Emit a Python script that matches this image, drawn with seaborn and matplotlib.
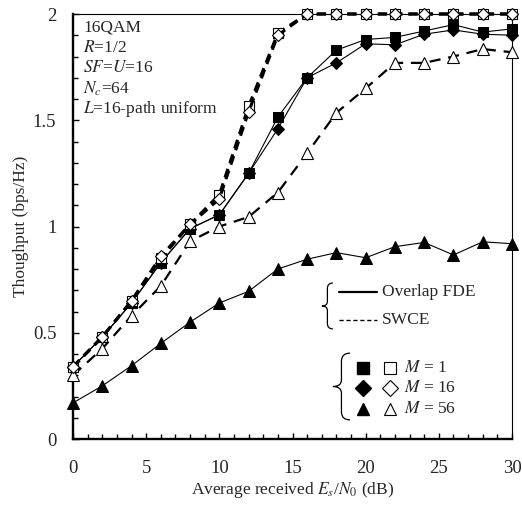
import numpy as np
import pandas as pd
import seaborn as sns
import matplotlib
matplotlib.use("Agg")
import matplotlib.pyplot as plt
from matplotlib.path import Path
from matplotlib.patches import PathPatch
from matplotlib.lines import Line2D
from matplotlib.ticker import MultipleLocator

# Average received Es/N0 (dB)
snr_db = [0, 2, 4, 6, 8, 10, 12, 14, 16, 18, 20, 22, 24, 26, 28, 30]

# Throughput (bps/Hz), overlap FDE
fde_m1 = [0.34, 0.48, 0.64, 0.83, 0.99, 1.055, 1.25, 1.515, 1.70, 1.83, 1.88, 1.89, 1.92, 1.95, 1.915, 1.93]
fde_m16 = [0.34, 0.48, 0.64, 0.83, 0.99, 1.055, 1.25, 1.46, 1.70, 1.77, 1.86, 1.855, 1.905, 1.925, 1.905, 1.90]
fde_m56 = [0.17, 0.25, 0.345, 0.45, 0.55, 0.64, 0.695, 0.80, 0.846, 0.877, 0.853, 0.905, 0.925, 0.866, 0.928, 0.919]

# Throughput (bps/Hz), SWCE
swce_m1 = [0.34, 0.48, 0.65, 0.85, 1.01, 1.15, 1.565, 1.91, 2.0, 2.0, 2.0, 2.0, 2.0, 2.0, 2.0, 2.0]
swce_m16 = [0.34, 0.48, 0.65, 0.86, 1.01, 1.13, 1.54, 1.90, 2.0, 2.0, 2.0, 2.0, 2.0, 2.0, 2.0, 2.0]
swce_m56 = [0.30, 0.425, 0.58, 0.72, 0.93, 1.00, 1.045, 1.16, 1.345, 1.535, 1.65, 1.77, 1.77, 1.80, 1.835, 1.82]

x_ticks = [0, 5, 10, 15, 20, 25, 30]
y_ticks = [0, 0.5, 1, 1.5, 2]
y_tick_labels = ["0", "0.5", "1", "1.5", "2"]

info_lines = ["16QAM", "$R$=1/2", "$SF$=$U$=16", "$N_c$=64", "$L$=16-path uniform"]
method_labels = ["Overlap FDE", "SWCE"]
m_labels = ["$M$ = 1", "$M$ = 16", "$M$ = 56"]

sns.set_theme(style="ticks")
plt.rcParams["font.family"] = ["Liberation Serif", "DejaVu Serif"]
plt.rcParams["mathtext.fontset"] = "stix"
plt.rcParams["axes.edgecolor"] = "black"

fig = plt.figure(figsize=(5.22, 5.08), dpi=100)
ax = fig.add_axes([73 / 522, 69 / 508, 439 / 522, 425 / 508])
ax.set_facecolor("white")
fig.patch.set_facecolor("white")

thin = 0.8
common = dict(ax=ax, color="black", clip_on=False, legend=False)

# Overlap FDE curves: solid, filled markers
sns.lineplot(x=snr_db, y=fde_m56, marker="^", markersize=8, linewidth=thin,
             markerfacecolor="black", markeredgecolor="black", **common)
sns.lineplot(x=snr_db, y=fde_m1, marker="s", markersize=7, linewidth=thin,
             markerfacecolor="black", markeredgecolor="black", **common)
sns.lineplot(x=snr_db, y=fde_m16, marker="D", markersize=6.5, linewidth=thin,
             markerfacecolor="black", markeredgecolor="black", **common)

# SWCE curves: dashed, open markers
sns.lineplot(x=snr_db, y=swce_m56, marker="^", markersize=8, linewidth=1.6,
             linestyle=(0, (5, 3.5)), markerfacecolor="white",
             markeredgecolor="black", markeredgewidth=0.8, **common)
sns.lineplot(x=snr_db, y=swce_m1, marker="s", markersize=7, linewidth=2.2,
             linestyle=(0, (3, 2)), markerfacecolor="white",
             markeredgecolor="black", markeredgewidth=0.8, **common)
sns.lineplot(x=snr_db, y=swce_m16, marker="D", markersize=6.5, linewidth=2.2,
             linestyle=(0, (3, 2)), markerfacecolor="white",
             markeredgecolor="black", markeredgewidth=0.8, **common)

ax.set_xlim(0, 30)
ax.set_ylim(0, 2)
ax.set_xticks(x_ticks)
ax.set_yticks(y_ticks)
ax.set_yticklabels(y_tick_labels)
ax.xaxis.set_minor_locator(MultipleLocator(1))
ax.yaxis.set_minor_locator(MultipleLocator(0.1))
ax.tick_params(axis="both", which="both", direction="in", color="black",
               top=False, right=False, labelsize=13.5)
ax.tick_params(axis="both", which="major", length=4, width=1)
ax.tick_params(axis="both", which="minor", length=3.5, width=1)
ax.tick_params(axis="x", which="major", pad=15)
ax.tick_params(axis="y", which="major", pad=12)

for side in ["left", "bottom"]:
    ax.spines[side].set_linewidth(1.7)
for side in ["top", "right"]:
    ax.spines[side].set_linewidth(0.8)
    ax.spines[side].set_visible(True)
for s in ax.spines.values():
    s.set_color("black")
    s.set_zorder(1)

ax.set_xlabel("Average received $E_s$/$N_0$ (dB)", fontsize=12.5, labelpad=2)
ax.set_ylabel("Thoughput (bps/Hz)", fontsize=12.5, labelpad=3)

# Parameter block in the upper left
for i, line in enumerate(info_lines):
    ax.text(0.023, 0.969 - i * 0.048, line, transform=ax.transAxes,
            fontsize=12.5, va="center", ha="left")


def brace(x_tip, x_end, y_bot, y_top):
    """Left-pointing curly brace in axes coordinates."""
    xm = (x_tip + x_end) / 2
    ymid = (y_bot + y_top) / 2
    h = y_top - y_bot
    verts = [
        (x_end, y_top), (xm, y_top), (xm, y_top - 0.12 * h),
        (xm, ymid + 0.1 * h),
        (xm, ymid), (x_tip, ymid),
        (xm, ymid), (xm, ymid - 0.1 * h),
        (xm, y_bot + 0.12 * h),
        (xm, y_bot), (x_end, y_bot),
    ]
    codes = [Path.MOVETO, Path.CURVE3, Path.CURVE3, Path.LINETO,
             Path.CURVE3, Path.CURVE3, Path.CURVE3, Path.CURVE3,
             Path.LINETO, Path.CURVE3, Path.CURVE3]
    ax.add_patch(PathPatch(Path(verts, codes), transform=ax.transAxes,
                           facecolor="none", edgecolor="black", linewidth=0.9,
                           clip_on=False))


# Line-style key
brace(0.567, 0.592, 0.259, 0.367)
ax.add_line(Line2D([0.606, 0.692], [0.346, 0.346], transform=ax.transAxes,
                   color="black", linewidth=1.6))
ax.add_line(Line2D([0.606, 0.692], [0.28, 0.28], transform=ax.transAxes,
                   color="black", linewidth=1.0, linestyle=(0, (3, 2))))
ax.text(0.704, 0.346, method_labels[0], transform=ax.transAxes,
        fontsize=12.5, va="center", ha="left")
ax.text(0.704, 0.28, method_labels[1], transform=ax.transAxes,
        fontsize=12.5, va="center", ha="left")

# Marker key
brace(0.592, 0.631, 0.045, 0.202)
key_markers = [("s", 9), ("D", 8.5), ("^", 9)]
rows = [0.167, 0.12, 0.071]
for (mk, ms), yy, lab in zip(key_markers, rows, m_labels):
    ax.add_line(Line2D([0.661], [yy], transform=ax.transAxes, marker=mk,
                       markersize=ms, color="black", linestyle="none"))
    ax.add_line(Line2D([0.722], [yy], transform=ax.transAxes, marker=mk,
                       markersize=ms, markerfacecolor="white",
                       markeredgecolor="black", markeredgewidth=0.8,
                       linestyle="none"))
    ax.text(0.754, yy, lab, transform=ax.transAxes, fontsize=12.5,
            va="center", ha="left")

fig.savefig("out.png", dpi=100, facecolor="white")
